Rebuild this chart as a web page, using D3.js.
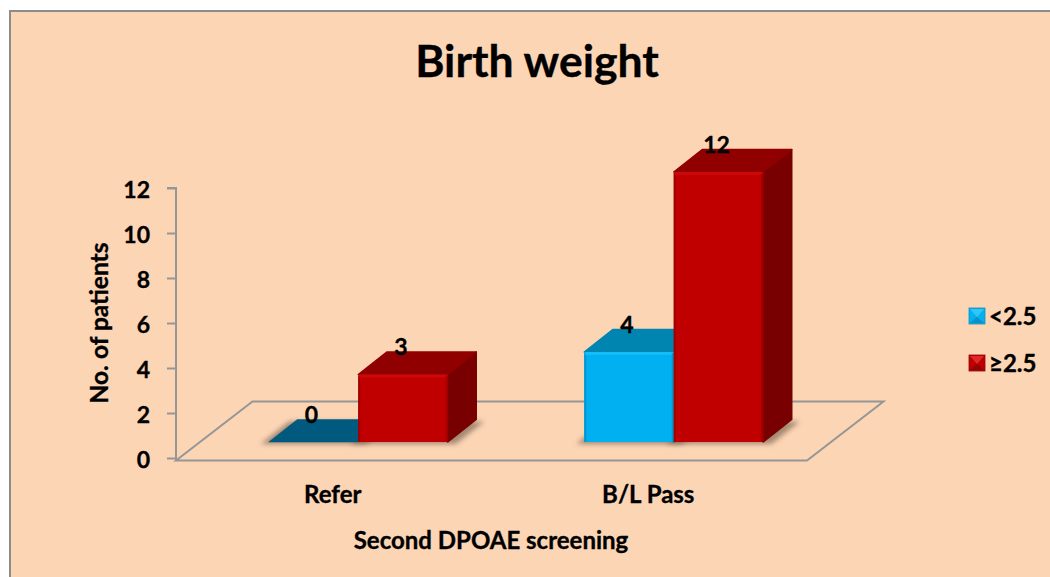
<!DOCTYPE html>
<html>
<head>
<meta charset="utf-8">
<script src="https://cdn.jsdelivr.net/npm/d3@7"></script>
<style>
  html, body { margin: 0; padding: 0; background: #fff; }
  svg { display: block; }
  text { font-family: Lato, "Open Sans", sans-serif; font-weight: 700; fill: #000; stroke: #000; stroke-width: 0.35px; }
</style>
</head>
<body>
<svg id="chart" width="1050" height="577"></svg>
<script>
// Chart content
const categories = ["Refer", "B/L Pass"];
const seriesNames = ["<2.5", "≥2.5"];
const lowWeight = [0, 4];
const normalWeight = [3, 12];
const yTicks = [0, 2, 4, 6, 8, 10, 12];
const titleText = "Birth weight";
const xTitle = "Second DPOAE screening";
const yTitle = "No. of patients";

// Per-series face colours: front, top, side, zero-height top
const seriesColors = [
  { front: "#00b0f0", top: "#0084b0", side: "#00759c", flat: "#005a7f", edge: "#0097cf", light: "#12bdf8", legendA: "#35c5f5", legendB: "#0f8fc4" },
  { front: "#c00000", top: "#900000", side: "#780000", flat: "#900000", edge: "#a00000", light: "#cc0808", legendA: "#dc2a2a", legendB: "#8e0606" }
];

const svg = d3.select("#chart");
const defs = svg.append("defs");
defs.append("filter").attr("id", "floorShadow")
  .attr("x", "-20%").attr("y", "-60%").attr("width", "140%").attr("height", "220%")
  .append("feGaussianBlur").attr("stdDeviation", 2.6);

// Chart area panel
svg.append("rect").attr("x", 10).attr("y", 11).attr("width", 1050).attr("height", 580)
  .attr("fill", "#fcd5b5").attr("stroke", "#8c8c8c").attr("stroke-width", 2);

// Scales: the vertical scale sets the wall, the band scale splits the floor
const y = d3.scaleLinear().domain([0, 12]).range([458, 188]);
const x = d3.scaleBand().domain(categories).range([176, 807]);
const barW = 89.5;
const depth = { dx: 28.5, dy: -22.5 };       // bar extrusion
const floorDepth = { dx: 76.5, dy: -59 };    // floor receding into the page
const barLift = 16;                          // bars stand mid-floor, above the axis baseline
const barShift = 24.5;                       // sideways shift of that same mid-floor position
const floorY = y(0) + 2.5;

// Floor outline
const floorLine = d3.line();
svg.append("path")
  .attr("d", floorLine([
    [x.range()[0], floorY],
    [x.range()[0] + floorDepth.dx, floorY + floorDepth.dy],
    [x.range()[1] + floorDepth.dx, floorY + floorDepth.dy],
    [x.range()[1], floorY]
  ]) + "Z")
  .attr("fill", "none").attr("stroke", "#969696").attr("stroke-width", 2);

// Vertical axis
const yAxis = svg.append("g").attr("transform", `translate(${x.range()[0]},0)`)
  .call(d3.axisLeft(y).tickValues(yTicks).tickSize(9).tickPadding(17).tickSizeOuter(9));
yAxis.selectAll("path, line").attr("stroke", "#969696").attr("stroke-width", 2);
yAxis.selectAll("text").attr("font-size", 23).attr("dy", "0.4em").style("font-family", "Lato").style("font-weight", 700).attr("fill", "#000");
yAxis.select(".domain").attr("d", `M-9,${y(12)}H0V${floorY}`);

// Category labels
svg.selectAll(".cat").data(categories).join("text").attr("class", "cat")
  .attr("x", d => x(d) + x.bandwidth() / 2 - 1).attr("y", 502.5)
  .attr("text-anchor", "middle").attr("font-size", 24).text(d => d);

// Flatten the two series into one list of bars
const bars = [];
categories.forEach((c, i) => {
  [lowWeight, normalWeight].forEach((vals, s) => {
    const cx = x(c) + x.bandwidth() / 2 + barShift;
    bars.push({ cat: c, s, value: vals[i], x0: cx - barW + s * barW, x1: cx + s * barW, base: y(0) - barLift, top: y(vals[i]) - barLift });
  });
});

// Soft shadows lying on the floor
svg.append("g").selectAll("path").data(bars).join("path")
  .attr("d", b => {
    const off = 8;
    return floorLine([
      [b.x0 - off, b.base + 2], [b.x1 + off, b.base + 2],
      [b.x1 + depth.dx + off, b.base + depth.dy + 2], [b.x0 + depth.dx - off, b.base + depth.dy + 2]
    ]) + "Z";
  })
  .attr("fill", "#6e5a48").attr("opacity", 0.62).attr("filter", "url(#floorShadow)");

// Bars: side, top and front faces
const barG = svg.append("g").selectAll("g").data(bars).join("g");
barG.filter(b => b.value > 0).append("path")
  .attr("d", b => floorLine([
    [b.x1, b.top], [b.x1 + depth.dx, b.top + depth.dy],
    [b.x1 + depth.dx, b.base + depth.dy], [b.x1, b.base]
  ]) + "Z")
  .attr("fill", b => seriesColors[b.s].side)
  .attr("stroke", b => seriesColors[b.s].side).attr("stroke-width", 1.5).attr("stroke-linejoin", "round");
barG.append("path")
  .attr("d", b => floorLine([
    [b.x0, b.top], [b.x0 + depth.dx, b.top + depth.dy],
    [b.x1 + depth.dx, b.top + depth.dy], [b.x1, b.top]
  ]) + "Z")
  .attr("fill", b => b.value > 0 ? seriesColors[b.s].top : seriesColors[b.s].flat)
  .attr("stroke", b => b.value > 0 ? seriesColors[b.s].top : seriesColors[b.s].flat)
  .attr("stroke-width", b => b.value > 0 ? 1.5 : 0.5).attr("stroke-linejoin", "round");
const fronts = barG.filter(b => b.value > 0);
fronts.append("rect")
  .attr("x", b => b.x0).attr("y", b => b.top)
  .attr("width", b => b.x1 - b.x0).attr("height", b => b.base - b.top)
  .attr("rx", 1.5)
  .attr("fill", b => seriesColors[b.s].front);
// Bevel strips along the front face
fronts.append("rect")
  .attr("x", b => b.x0).attr("y", b => b.top + 1)
  .attr("width", 2).attr("height", b => b.base - b.top - 1)
  .attr("fill", b => seriesColors[b.s].edge);
fronts.append("rect")
  .attr("x", b => b.x0 + 1).attr("y", b => b.top)
  .attr("width", b => b.x1 - b.x0 - 1).attr("height", 3)
  .attr("fill", b => seriesColors[b.s].light);
fronts.append("rect")
  .attr("x", b => b.x1 - 2).attr("y", b => b.top + 1)
  .attr("width", 2).attr("height", b => b.base - b.top - 1)
  .attr("fill", b => seriesColors[b.s].edge);

// Value labels, set just above the top face of each bar
svg.append("g").selectAll("text").data(bars).join("text")
  .attr("x", b => (b.x0 + b.x1) / 2 - 2)
  .attr("y", b => b.top + depth.dy + 3)
  .attr("text-anchor", "middle").attr("font-size", 23).text(b => b.value);

// Titles
svg.append("text").attr("x", 537).attr("y", 77).attr("text-anchor", "middle")
  .attr("font-size", 44.5).text(titleText);
svg.append("text").attr("x", 491).attr("y", 548.5).attr("text-anchor", "middle")
  .attr("font-size", 24).text(xTitle);
svg.append("text").attr("transform", "translate(108,323) rotate(-90)").attr("text-anchor", "middle")
  .attr("font-size", 24.5).text(yTitle);

// Legend with pyramid-bevelled swatches
const legendY = d3.scalePoint().domain(seriesNames).range([316, 363]);
const size = 16;
const legend = svg.append("g").selectAll("g").data(seriesNames).join("g")
  .attr("transform", d => `translate(969,${legendY(d) - size / 2})`);
legend.append("rect").attr("width", size).attr("height", size)
  .attr("fill", (d, i) => seriesColors[i].front).attr("stroke", (d, i) => seriesColors[i].legendB).attr("stroke-width", 0.8);
legend.append("path").attr("d", floorLine([[1, 1], [size - 1, 1], [size / 2, size / 2 + 1]]) + "Z")
  .attr("fill", (d, i) => seriesColors[i].legendA);
legend.append("path").attr("d", floorLine([[1, size - 1], [size - 1, size - 1], [size / 2, size / 2 + 1]]) + "Z")
  .attr("fill", (d, i) => seriesColors[i].legendB);
legend.append("text").attr("x", 20).attr("y", size / 2).attr("dy", "0.38em")
  .attr("font-size", 24).text(d => d);
</script>
</body>
</html>
